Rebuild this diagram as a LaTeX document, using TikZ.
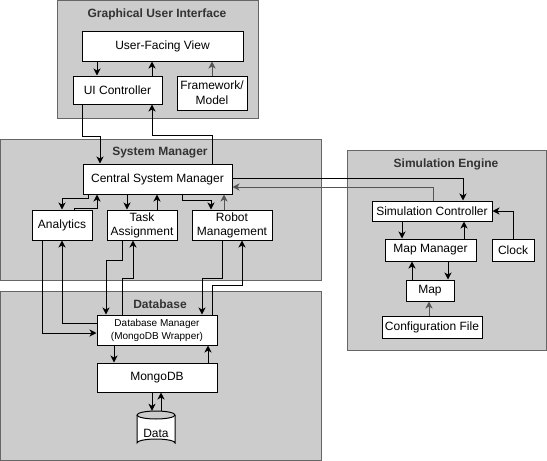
\documentclass[tikz,border=0pt]{standalone}
\usepackage{fontspec}
\setmainfont{Liberation Sans}
\usetikzlibrary{arrows.meta}
\definecolor{contfill}{HTML}{CCCCCC}
\definecolor{contline}{HTML}{666666}
\definecolor{titlecol}{HTML}{333333}
\definecolor{greyline}{HTML}{555555}
\tikzset{
  container/.style={draw=contline, fill=contfill, line width=1pt},
  ctitle/.style={font=\fontsize{12}{14}\selectfont\bfseries, text=titlecol, inner sep=0pt},
  box/.style={draw=black, fill=white, line width=1pt, inner sep=0pt, align=center,
    font=\fontsize{12}{14}\selectfont},
  arr/.style={line width=1pt, -{Stealth[length=7pt,width=7pt,inset=2pt]}},
  plain/.style={line width=1pt},
}
\begin{document}
\begin{tikzpicture}[x=1pt,y=-1pt]
\useasboundingbox (0,0) rectangle (547,461);
% containers
\draw[container] (57,0.5) rectangle (258,118);
\node[ctitle] (tgui) at (157,14) {Graphical User Interface};
\draw[container] (0.5,139) rectangle (321,280);
\node[ctitle] (tsys) at (160,153) {System Manager};
\draw[container] (347,150) rectangle (546,350);
\node[ctitle] (tsim) at (446,164) {Simulation Engine};
\draw[container] (0.5,291) rectangle (321,460);
\node[ctitle] (tdb) at (160,304) {Database};

% GUI nodes
\node[box, minimum width=161, minimum height=30] (ufv) at (162.5,46) {User-Facing View};
\node[box, minimum width=89, minimum height=28] (uic) at (117.5,90) {UI Controller};
\node[box, minimum width=70, minimum height=34, font=\fontsize{12}{15}\selectfont] (fm) at (212,93) {Framework/\\Model};

% System manager nodes
\node[box, minimum width=149, minimum height=30] (csm) at (157.5,179) {Central System Manager};
\node[box, minimum width=60, minimum height=30] (ana) at (62,225) {Analytics};
\node[box, minimum width=70, minimum height=30, font=\fontsize{12}{14}\selectfont] (task) at (142,225) {Task\\Assignment};
\node[box, minimum width=80, minimum height=30, font=\fontsize{12}{14}\selectfont] (robot) at (232,225) {Robot\\Management};

% Simulation engine nodes
\node[box, minimum width=120, minimum height=20] (simc) at (432,211) {Simulation Controller};
\node[box, minimum width=91, minimum height=22] (mapm) at (430.5,250) {Map Manager};
\node[box, minimum width=42, minimum height=22] (clock) at (513,250) {Clock};
\node[box, minimum width=48, minimum height=21] (map) at (430,290.5) {Map};
\node[box, minimum width=100, minimum height=22] (conf) at (432,327) {Configuration File};

% Database nodes
\node[box, minimum width=120, minimum height=30, font=\fontsize{10}{13}\selectfont] (dbm) at (157,330) {Database Manager\\(MongoDB Wrapper)};
\node[box, minimum width=120, minimum height=29] (mongo) at (157,377.5) {MongoDB};
% cylinder
\fill[white] (137,415) -- (137,443) arc[start angle=180,end angle=360,x radius=19,y radius=4] -- (175,415) arc[start angle=0,end angle=180,x radius=19,y radius=4] -- cycle;
\draw[line width=1pt] (137,415) -- (137,443) arc[start angle=180,end angle=360,x radius=19,y radius=4] -- (175,415);
\draw[line width=1pt] (156,415) ellipse[x radius=19,y radius=4];
\node[inner sep=0pt, minimum width=38, minimum height=36, font=\fontsize{12}{14}\selectfont] (data) at (156,429) {};
\node[inner sep=0pt, font=\fontsize{12}{14}\selectfont] (datat) at (156,433) {Data};

% GUI edges
\draw[arr] (ufv.south -| 97,0) -- (uic.north -| 97,0);
\draw[arr] (uic.north -| 152,0) -- (ufv.south -| 152,0);
\draw[arr, draw=greyline] (fm.north) -- (ufv.south -| fm.north);

% GUI <-> CSM
\draw[arr] (uic.south -| 82,0) -- (82,136) -- (100,136) -- (csm.north -| 100,0);
\draw[arr] (csm.north -| 212,0) -- (212,135) -- (152,135) -- (uic.south -| 152,0);

% CSM <-> children
\draw[arr] (csm.south -| 88,0) -- (88,198) -- (62,198) -- (ana.north);
\draw[arr] (ana.north -| 74,0) -- (74,208) -- (97,208) -- (csm.south -| 97,0);
\draw[arr] (csm.south -| 127,0) -- (task.north -| 127,0);
\draw[arr] (task.north -| 157,0) -- (csm.south -| 157,0);
\draw[arr] (csm.south -| 182,0) -- (182,200) -- (211,200) -- (robot.north -| 211,0);
\draw[arr, draw=greyline] (robot.north -| 224,0) -- (csm.south -| 224,0);

% CSM <-> Simulation
\draw[arr] (csm.east |- 0,178) -- (463,178) -- (simc.north -| 463,0);
\draw[arr, draw=greyline] (simc.north -| 433,0) -- (433,187) -- (csm.east |- 0,187);

% Simulation edges
\draw[arr] (simc.south -| 402,0) -- (mapm.north -| 402,0);
\draw[arr] (mapm.north -| 464,0) -- (simc.south -| 464,0);
\draw[arr] (clock.north) -- (513,211) -- (simc.east);
\draw[arr] (map.north -| 412,0) -- (mapm.south -| 412,0);
\draw[arr] (mapm.south -| 448,0) -- (map.north -| 448,0);
\draw[arr, draw=greyline] (conf.north -| 429,0) -- (map.south -| 429,0);

% System manager <-> DB manager
\draw[arr] (ana.south -| 42,0) -- (42,333) -- (dbm.west |- 0,333);
\draw[arr] (dbm.west |- 0,323) -- (62,323) -- (ana.south -| 62,0);
\draw[arr] (task.south -| 122,0) -- (122,260) -- (106,260) -- (dbm.north -| 106,0);
\draw[arr] (dbm.north -| 122,0) -- (122,278) -- (133,278) -- (task.south -| 133,0);
\draw[arr] (robot.south -| 222,0) -- (222,278) -- (202,278) -- (dbm.north -| 202,0);
\draw[arr] (dbm.north -| 212,0) -- (212,285) -- (242,285) -- (robot.south -| 242,0);

% DB edges
\draw[arr] (dbm.south -| 114,0) -- (mongo.north -| 114,0);
\draw[arr] (mongo.north -| 208,0) -- (dbm.south -| 208,0);
\draw[arr] (mongo.south -| 152,0) -- (data.north -| 152,0);
\draw[arr] (data.north -| 161,0) -- (mongo.south -| 161,0);
\end{tikzpicture}
\end{document}
